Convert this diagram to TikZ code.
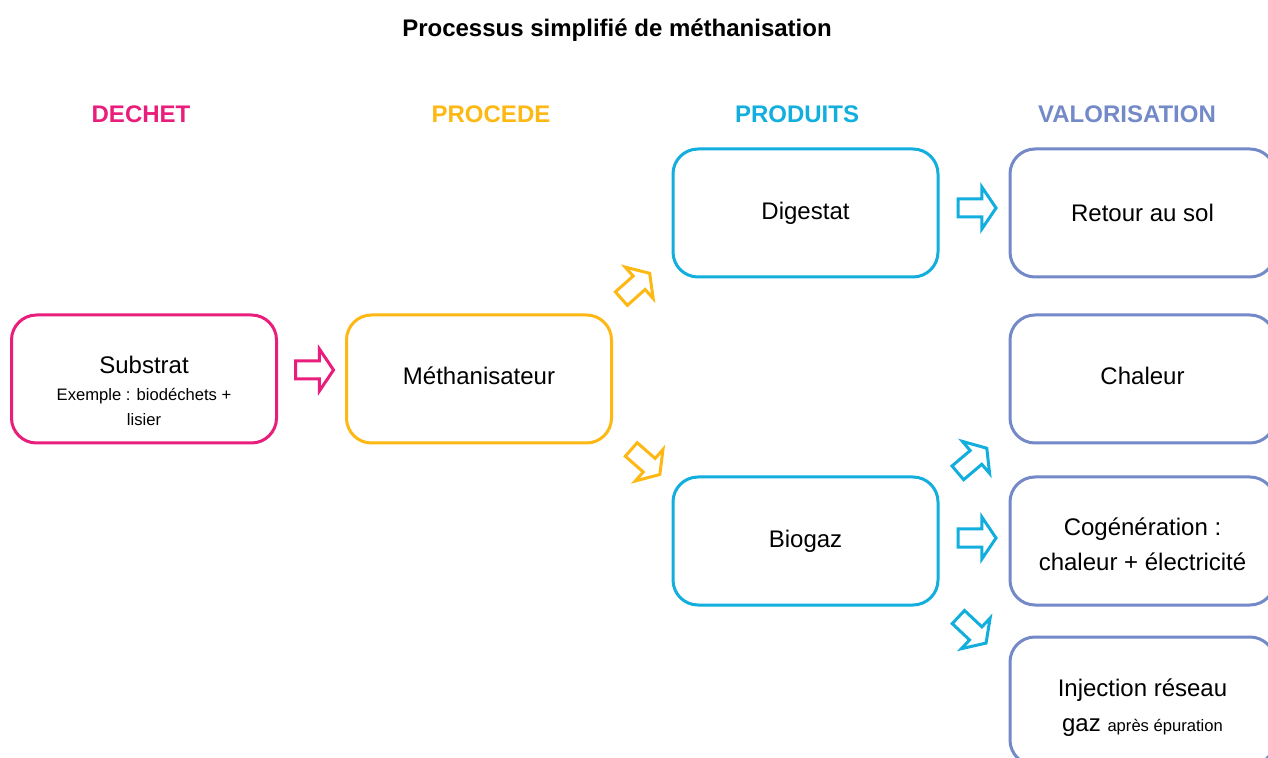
\documentclass[tikz,border=0pt]{standalone}
\usepackage{fontspec}
\setmainfont{Liberation Sans}
\usetikzlibrary{shapes.arrows,calc}
\definecolor{cpink}{HTML}{E91E7C}
\definecolor{corange}{HTML}{FDB813}
\definecolor{ccyan}{HTML}{12AEDD}
\definecolor{cviolet}{HTML}{7389C8}
\begin{document}
\begin{tikzpicture}[x=0.5pt,y=-0.5pt,
  box/.style={draw=#1, line width=1.5pt, rounded corners=12.5pt,
    minimum width=132.5pt, minimum height=64pt, align=center,
    font=\fontsize{12}{17.5}\selectfont, fill=white},
  boxtext/.style={align=center, font=\fontsize{12}{17.5}\selectfont},
  hdr/.style={font=\bfseries\fontsize{12}{14}\selectfont, text=#1},
  barrow/.style={single arrow, draw=#1, line width=1.5pt, fill=white,
    inner xsep=0pt, inner ysep=3.75pt, minimum height=19pt, minimum width=19.5pt,
    single arrow head extend=6pt, single arrow tip angle=112, sloped, midway}]
\useasboundingbox (0,0) rectangle (1268,758);
\clip (0,0) rectangle (1268,758);

\node[font=\bfseries\fontsize{12}{14}\selectfont] (title) at (617,30) {Processus simplifié de méthanisation};

\node[hdr=cpink] (h1) at (141,114) {DECHET};
\node[hdr=corange] (h2) at (491,114) {PROCEDE};
\node[hdr=ccyan] (h3) at (797,114) {PRODUITS};
\node[hdr=cviolet] (h4) at (1127,114) {VALORISATION};

\node[box=cpink, label={[boxtext, yshift=-6pt]center:{Substrat\\[-4pt]\fontsize{8.3}{12.5}\selectfont Exemple : biodéchets +\\[-5pt] \fontsize{8.3}{12.5}\selectfont lisier}}] (sub) at (144,379) {};
\node[box=corange, label={[boxtext, yshift=1.5pt]center:{Méthanisateur}}] (met) at (479,379) {};
\node[box=ccyan] (dig) at (805.5,213) {Digestat};
\node[box=ccyan] (bio) at (805.5,541) {Biogaz};
\node[box=cviolet] (ret) at (1142.5,213) {Retour au sol};
\node[box=cviolet, label={[boxtext, yshift=1.5pt]center:{Chaleur}}] (chal) at (1142.5,379) {};
\node[box=cviolet, label={[boxtext, yshift=-1.5pt]center:{Cogénération :\\ chaleur + électricité}}] (cog) at (1142.5,541) {};
\node[box=cviolet, label={[boxtext, yshift=-3.5pt]center:{Injection réseau\\ gaz {\fontsize{8.3}{12}\selectfont après épuration}}}] (inj) at (1142.5,701) {};

\path ($(sub.east)+(0,-9)$) -- ($(met.west)+(0,-9)$) node[barrow=cpink] (a1) {};
\path ($(met.north east)+(4,-11)$) -- ($(dig.south west)+(-22,-5)$) node[barrow=corange] (a2) {};
\path ($(met.south east)+(16,3)$) -- ($(bio.north west)+(-14,-3)$) node[barrow=corange] (a3) {};
\path ($(dig.east)+(0,-5)$) -- ($(ret.west)+(0,-5)$) node[barrow=ccyan] (a4) {};
\path ($(bio.north east)+(14,1)$) -- ($(chal.south west)+(-22,4)$) node[barrow=ccyan] (a5) {};
\path ($(bio.east)+(0,-3)$) -- ($(cog.west)+(0,-3)$) node[barrow=ccyan] (a6) {};
\path ($(bio.south east)+(14,6)$) -- ($(inj.north west)+(-22,8)$) node[barrow=ccyan] (a7) {};
\end{tikzpicture}
\end{document}
